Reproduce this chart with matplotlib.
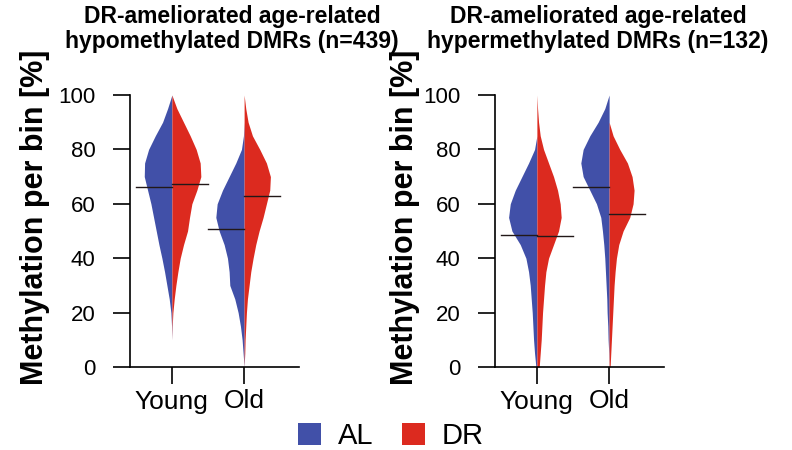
import matplotlib
matplotlib.use("Agg")
import matplotlib.pyplot as plt
from matplotlib.patches import Patch
import numpy as np

plt.rcParams['font.family'] = ['Liberation Sans', 'DejaVu Sans']

# ---------------- DATA ----------------
groups = ["Young", "Old"]
diets = ["AL", "DR"]

# methylation levels (%) where the violin half-widths were read
levels = [100, 95, 90, 85, 80, 75, 70, 65, 60, 55, 50, 45, 40, 35, 30, 25, 20, 15, 10, 5, 0]

# half-widths of each half violin (relative density)
hypo_young_al = [0, 13, 28, 50, 70, 82, 83, 73, 63, 55, 47, 39, 30, 22, 15, 8, 3, 1, 0, 0, 0]
hypo_young_dr = [0, 15, 35, 55, 73, 85, 87, 75, 60, 53, 47, 35, 25, 18, 12, 7, 3, 1, 0, 0, 0]
hypo_old_al = [0, 0, 0, 2, 8, 25, 45, 65, 81, 85, 75, 60, 50, 45, 43, 28, 18, 11, 6, 3, 0]
hypo_old_dr = [0, 5, 12, 25, 47, 67, 79, 77, 67, 57, 45, 35, 27, 20, 15, 10, 7, 5, 3, 2, 0]

hyper_young_al = [0, 0, 0, 0, 7, 25, 45, 65, 80, 85, 75, 50, 33, 25, 20, 17, 14, 12, 10, 7, 3]
hyper_young_dr = [0, 2, 5, 10, 20, 35, 50, 62, 70, 73, 65, 50, 35, 27, 23, 20, 17, 15, 13, 10, 7]
hyper_old_al = [0, 13, 33, 58, 78, 85, 78, 58, 38, 25, 20, 16, 13, 11, 9, 7, 6, 4, 3, 1, 0]
hyper_old_dr = [0, 0, 0, 12, 32, 55, 69, 75, 72, 62, 42, 29, 22, 18, 15, 13, 11, 9, 7, 5, 3]

# medians (%) per group
hypo_median_al = [66.3, 50.6]
hypo_median_dr = [67.2, 62.9]
hyper_median_al = [48.5, 66.3]
hyper_median_dr = [48.2, 56.3]

titles = ["DR-ameliorated age-related\nhypomethylated DMRs (n=439)",
          "DR-ameliorated age-related\nhypermethylated DMRs (n=132)"]

# ---------------- STYLE ----------------
BLUE = '#4150A8'
RED = '#DC2A1F'
WSCALE = 1 / 217.0   # relative width -> x-axis units


def draw_panel(ax, al_widths, dr_widths, med_al, med_dr):
    y = np.array(levels)
    for i in range(len(groups)):
        wa = np.array(al_widths[i]) * WSCALE
        wd = np.array(dr_widths[i]) * WSCALE
        ax.fill_betweenx(y, i - wa, i, color=BLUE, lw=0)
        ax.fill_betweenx(y, i, i + wd, color=RED, lw=0)
        ax.plot([i - 0.5, i], [med_al[i], med_al[i]], color='#221818', lw=1.0)
        ax.plot([i, i + 0.5], [med_dr[i], med_dr[i]], color='#221818', lw=1.0)

    ax.set_xlim(-0.58, 1.76)
    ax.set_ylim(0, 100)
    ax.set_yticks([0, 20, 40, 60, 80, 100])
    ax.set_xticks([0, 1])
    ax.set_xticklabels(groups)
    ax.spines['top'].set_visible(False)
    ax.spines['right'].set_visible(False)
    for s in ['left', 'bottom']:
        ax.spines[s].set_linewidth(1.2)
    ax.tick_params(axis='y', length=12.2, width=1.2, pad=12.5, labelsize=16)
    ax.tick_params(axis='x', length=12.2, width=1.2, pad=4, labelsize=19)
    ax.set_ylabel("Methylation per bin [%]", fontsize=22, fontweight='bold')


fig = plt.figure(figsize=(7.92, 4.5), dpi=100)
ax1 = fig.add_axes([130 / 792, 83 / 450, 169 / 792, 272 / 450])
ax2 = fig.add_axes([495 / 792, 83 / 450, 169 / 792, 272 / 450])

draw_panel(ax1, [hypo_young_al, hypo_old_al], [hypo_young_dr, hypo_old_dr],
           hypo_median_al, hypo_median_dr)
draw_panel(ax2, [hyper_young_al, hyper_old_al], [hyper_young_dr, hyper_old_dr],
           hyper_median_al, hyper_median_dr)

ax1.yaxis.set_label_coords(-0.475, 0.55)
ax2.yaxis.set_label_coords(-0.445, 0.55)

fig.text(232 / 792, 1 - 5 / 450, titles[0], ha='center', va='top',
         fontsize=16.5, fontweight='bold', linespacing=1.12)
fig.text(598 / 792, 1 - 5 / 450, titles[1], ha='center', va='top',
         fontsize=16.5, fontweight='bold', linespacing=1.12)

handles = [Patch(facecolor=BLUE, edgecolor='none', label=diets[0]),
           Patch(facecolor=RED, edgecolor='none', label=diets[1])]
fig.legend(handles=handles, loc='center', bbox_to_anchor=(391 / 792, 14 / 450),
           ncol=2, frameon=False, fontsize=21, handlelength=0.78, handleheight=0.78,
           handletextpad=0.58, columnspacing=1.0, borderpad=0, borderaxespad=0)

plt.savefig("out.png", dpi=100)
